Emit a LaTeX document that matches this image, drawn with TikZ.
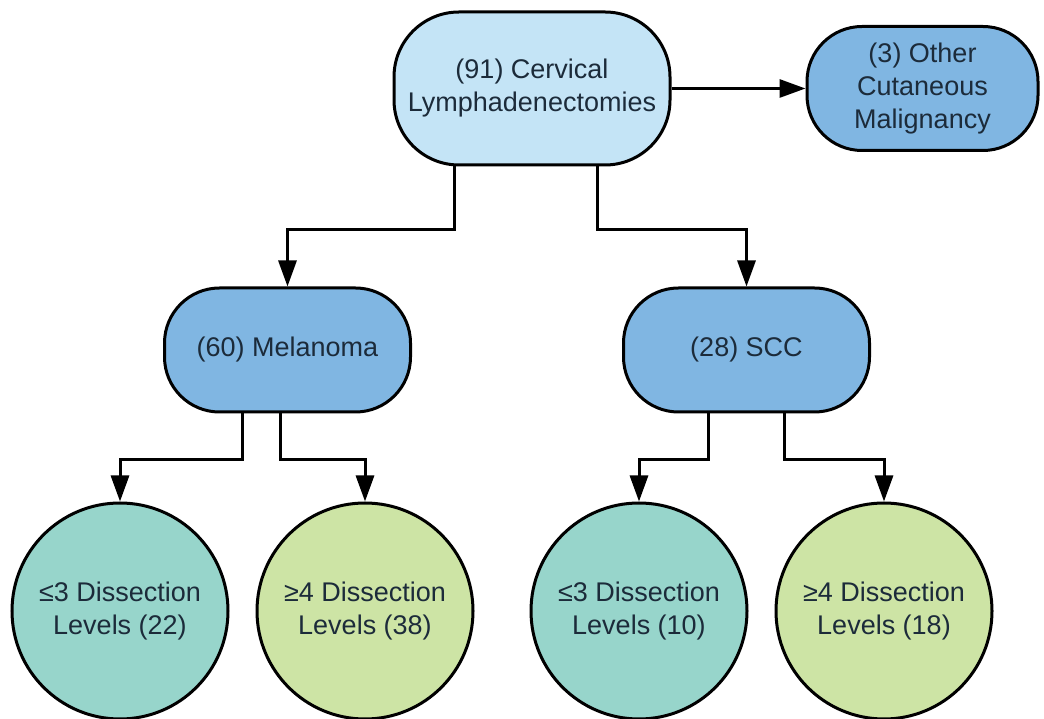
\documentclass[tikz,border=0pt]{standalone}
\usepackage{fontspec}
\setmainfont{Liberation Sans}
\usepackage{xcolor}
\usepackage{tikz}
\usetikzlibrary{calc}
\usetikzlibrary{arrows.meta}

\definecolor{boxlight}{HTML}{C4E4F6}
\definecolor{boxblue}{HTML}{80B6E2}
\definecolor{circteal}{HTML}{97D5CB}
\definecolor{circgreen}{HTML}{CDE4A5}
\definecolor{textdark}{HTML}{1C2B3A}

\tikzset{
  box/.style={draw=black, line width=3pt, rounded corners=55pt, align=center,
    text=textdark, font=\fontsize{27}{33}\selectfont},
  levels/.style={draw=black, line width=3pt, circle, minimum size=216pt, inner sep=0pt,
    align=center, text=textdark, font=\fontsize{27}{33}\selectfont},
  arr/.style={line width=3pt, line join=miter, -{Triangle[length=26pt,width=18pt]}}
}

\begin{document}
\begin{tikzpicture}[x=1pt,y=1pt]
        %GRID
        %\draw[lightgray] (0,0) grid[step=50] (1044,718);
        \useasboundingbox (0,0) rectangle (1044,718);

        %KOTAK
        \node[box, fill=boxlight, rounded corners=65pt, minimum width=276pt, minimum height=153pt] (top) at (532,629.5) {(91) Cervical\\Lymphadenectomies};
        \node[box, fill=boxblue, minimum width=231pt, minimum height=124pt] (other) at (922.5,629.5) {(3) Other\\Cutaneous\\Malignancy};
        \node[box, fill=boxblue, minimum width=246pt, minimum height=124pt] (mel) at (287.5,368) {(60) Melanoma};
        \node[box, fill=boxblue, minimum width=246pt, minimum height=124pt] (scc) at (746.5,368) {(28) SCC};

        %LINGKARAN
        \node[levels, fill=circteal] (c1) at (120,107) {≤3 Dissection\\Levels (22)};
        \node[levels, fill=circgreen] (c2) at (365,107) {≥4 Dissection\\Levels (38)};
        \node[levels, fill=circteal] (c3) at (639,107) {≤3 Dissection\\Levels (10)};
        \node[levels, fill=circgreen] (c4) at (884,107) {≥4 Dissection\\Levels (18)};

        %PANAH
        \draw[arr] (top.east) -- (other.west);
        \draw[arr] ([xshift=-78pt]top.south) -- ++(0,-63) -| (mel.north);
        \draw[arr] ([xshift=65pt]top.south) -- ++(0,-63) -| (scc.north);
        \draw[arr] ([xshift=-45pt]mel.south) -- ++(0,-46) -| (c1.north);
        \draw[arr] ([xshift=-7.5pt]mel.south) -- ++(0,-46) -| (c2.north);
        \draw[arr] ([xshift=-38.5pt]scc.south) -- ++(0,-46) -| (c3.north);
        \draw[arr] ([xshift=37.5pt]scc.south) -- ++(0,-46) -| (c4.north);
    \end{tikzpicture}
\end{document}
